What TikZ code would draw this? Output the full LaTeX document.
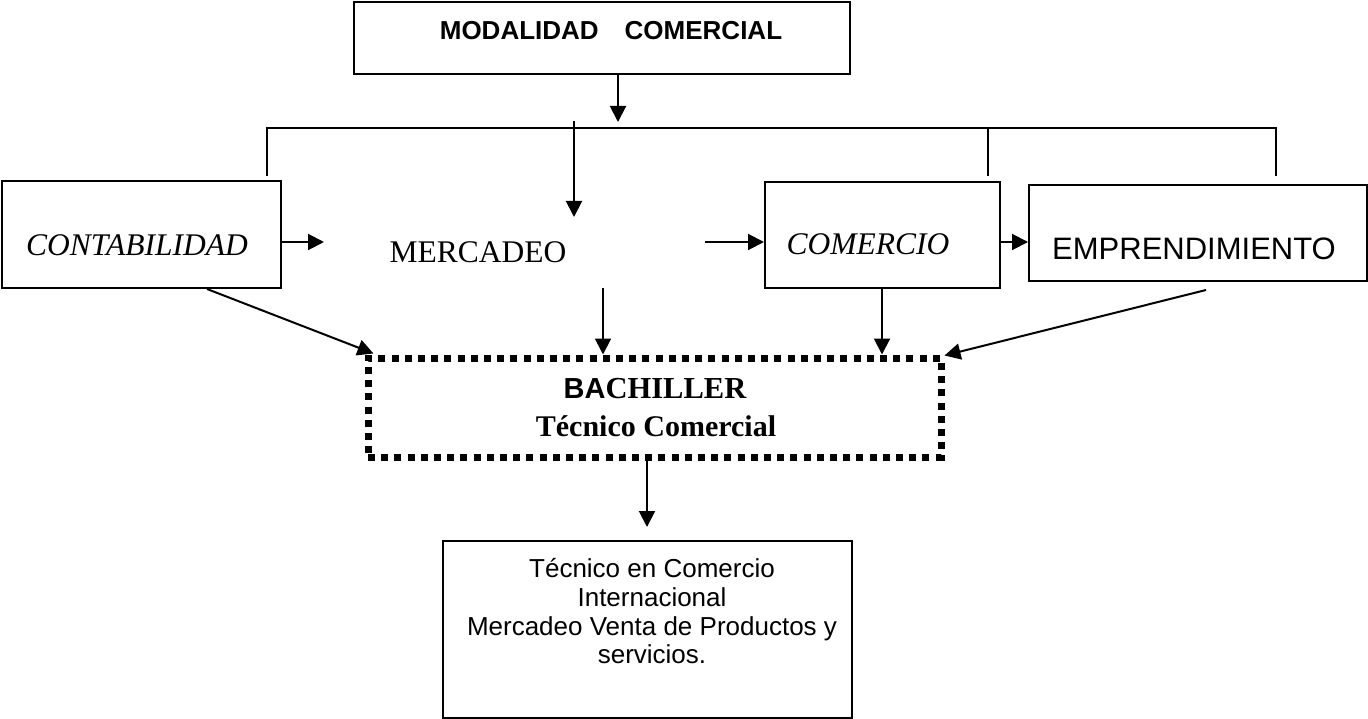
\documentclass[tikz,border=0pt]{standalone}
\usepackage{fontspec}
\setmainfont{Liberation Serif}
\newfontfamily\arial{Liberation Sans}
\usetikzlibrary{arrows.meta}
\begin{document}
\begin{tikzpicture}[x=1pt,y=-1pt,
  box/.style={draw,line width=2pt,inner sep=0pt},
  conn/.style={line width=2pt},
  arr/.style={line width=2pt,-{Triangle[length=16pt,width=16pt]}},
  dotbox/.style={draw,line width=7pt,dash pattern=on 7pt off 6.2pt,inner sep=0pt},
  lbl/.style={inner sep=0pt,anchor=base}]
\useasboundingbox (0,0) rectangle (1368,719);
% boxes
\node[box,minimum width=496pt,minimum height=72pt] (top) at (602,38) {};
\node[lbl] (toptxt) at (611,40) {\arial\bfseries\fontsize{26}{30}\selectfont MODALIDAD\hspace{26pt}COMERCIAL};
\node[box,minimum width=279pt,minimum height=107pt] (cont) at (141.5,234.5) {};
\node[lbl] (conttxt) at (137,256) {\itshape\fontsize{31.5}{36}\selectfont CONTABILIDAD};
\node[lbl] (merc) at (478,263) {\fontsize{31.5}{36}\selectfont MERCADEO};
\node[box,minimum width=235pt,minimum height=106pt] (com) at (882.5,235) {};
\node[lbl] (comtxt) at (868,255) {\itshape\fontsize{31.5}{36}\selectfont COMERCIO};
\node[box,minimum width=338pt,minimum height=96pt] (emp) at (1198,233) {};
\node[lbl] (emptxt) at (1194,260) {\arial\fontsize{31}{36}\selectfont EMPRENDIMIENTO};
\node[dotbox,minimum width=573pt,minimum height=99pt] (bach) at (654.5,407.5) {};
\node[lbl] (bach1) at (655,398) {\bfseries\fontsize{30.5}{36}\selectfont{\arial\fontsize{29}{34}\selectfont BA}CHILLER};
\node[lbl] (bach2) at (656,436) {\bfseries\fontsize{30}{36}\selectfont Técnico Comercial};
\node[box,minimum width=409pt,minimum height=177pt] (bot) at (647.5,629.5) {};
\node[inner sep=0pt,anchor=north,align=center,font=\arial\fontsize{26}{28.7}\selectfont] (bottxt) at (652,558.5)
  {Técnico en Comercio\\Internacional\\Mercadeo Venta de Productos y\\servicios.};
% coordinates
\coordinate (jt) at (618,122);
\coordinate (bl) at (267,128);
\coordinate (br) at (1276,128);
\coordinate (bm) at (988,128);
\coordinate (bld) at (267,176);
\coordinate (brd) at (1276,176);
\coordinate (bmd) at (988,176);
\coordinate (ms) at (574,121);
\coordinate (me) at (574,217);
\coordinate (ca) at (324,242);
\coordinate (cb) at (705,242);
\coordinate (mb) at (603,288);
\coordinate (es) at (1206,290);
% connectors
\draw[arr] (top.south -| jt) -- (jt);
\draw[conn] (bld) -- (bl) -- (br) -- (brd);
\draw[conn] (bm) -- (bmd);
\draw[arr] (ms) -- (me);
\draw[arr] (cont.east |- ca) -- (ca);
\draw[arr] (cb) -- (com.west |- cb);
\draw[arr] (com.east |- cb) -- (emp.west |- cb);
\draw[arr] ([xshift=65.5pt]cont.south) -- ([xshift=9pt,yshift=1pt]bach.north west);
\draw[arr] (mb) -- (bach.north -| mb);
\draw[arr] ([xshift=-0.5pt]com.south) -- ([xshift=-0.5pt]com.south |- bach.north);
\draw[arr] (es) -- ([xshift=0pt,yshift=-1pt]bach.north east);
\draw[arr] ([xshift=-7.5pt]bach.south) -- ([xshift=-7.5pt,yshift=13pt]bach.south |- bot.north);
\end{tikzpicture}
\end{document}
